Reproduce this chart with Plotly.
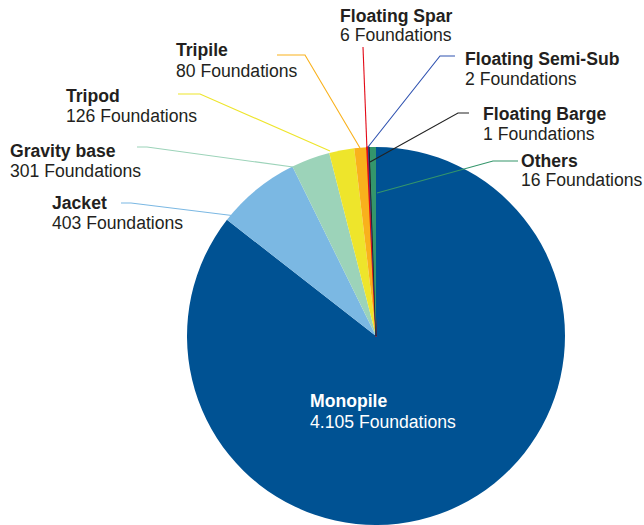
import plotly.graph_objects as go

# ---- data ----
categories = ["Monopile", "Jacket", "Gravity base", "Tripod", "Tripile",
              "Floating Spar", "Floating Semi-Sub", "Floating Barge", "Others"]
count_labels = ["4.105", "403", "301", "126", "80", "6", "2", "1", "16"]
# slice sizes as drawn in the picture (percent of the circle)
slice_share_pct = [85.56, 7.17, 3.31, 2.14, 1.08, 0.11, 0.06, 0.06, 0.53]
colors = ["#005293", "#7BB8E3", "#9CD3B9", "#EEE52B", "#F9B11C",
          "#E30A17", "#2B4DA8", "#222222", "#34966B"]

W, H = 644, 525
CX, CY, R = 376, 336, 189


def px(x):
    return x / W


def py(y):
    return 1 - y / H


fig = go.Figure(go.Pie(
    labels=categories,
    values=slice_share_pct,
    sort=False,
    direction="clockwise",
    rotation=0,
    textinfo="none",
    hoverinfo="label",
    showlegend=False,
    marker=dict(colors=colors,
                line=dict(color=colors, width=[0, 0, 0, 0, 0, 1.6, 0.8, 0.8, 0])),
    domain=dict(x=[px(CX - R), px(CX + R)], y=[max(0, py(CY + R)), py(CY - R)]),
))

# label layout: (left x, name-line centre y, count-line centre y)
label_pos = {
    "Monopile": (308, 401, 422),
    "Jacket": (50, 203, 223),
    "Gravity base": (8, 151, 171),
    "Tripod": (64, 96, 116),
    "Tripile": (174, 50, 71),
    "Floating Spar": (338, 16, 35),
    "Floating Semi-Sub": (463, 59, 79),
    "Floating Barge": (481, 114, 134),
    "Others": (519, 161, 180),
}
# leader lines (pixel points from label towards slice)
leaders = {
    "Jacket": [(121, 203), (131, 203), (236, 216)],
    "Gravity base": [(137, 147), (147, 147), (293, 167)],
    "Tripod": [(178, 94), (200, 94), (330, 151)],
    "Tripile": [(277, 55), (305, 55), (360, 148)],
    "Floating Spar": [(363, 47), (367, 150)],
    "Floating Semi-Sub": [(455, 56), (440, 56), (368, 147)],
    "Floating Barge": [(469, 113), (458, 113), (370, 162)],
    "Others": [(518, 161), (493, 161), (377, 193)],
}

font_family = "Arial, Liberation Sans, Helvetica, sans-serif"
FS = 17.6
annotations = []
for i, cat in enumerate(categories):
    x, y1, y2 = label_pos[cat]
    col = "white" if cat == "Monopile" else "#231F20"
    annotations.append(dict(x=px(x), y=py(y1), xref="paper", yref="paper",
                            text=f"<b>{cat}</b>", showarrow=False,
                            xanchor="left", yanchor="middle",
                            font=dict(family=font_family, size=FS, color=col)))
    annotations.append(dict(x=px(x), y=py(y2), xref="paper", yref="paper",
                            text=f"{count_labels[i]} Foundations", showarrow=False,
                            xanchor="left", yanchor="middle",
                            font=dict(family=font_family, size=FS, color=col)))

shapes = []
for cat, pts in leaders.items():
    idx = categories.index(cat)
    path = "M " + " L ".join(f"{px(a):.5f},{py(b):.5f}" for a, b in pts)
    shapes.append(dict(type="path", xref="paper", yref="paper", path=path,
                       line=dict(color=colors[idx] if cat != "Floating Semi-Sub" else "#2F52B0",
                                 width=1.1)))

fig.update_layout(
    width=W, height=H,
    margin=dict(l=0, r=0, t=0, b=0),
    paper_bgcolor="white",
    plot_bgcolor="white",
    annotations=annotations,
    shapes=shapes,
)

fig.write_html(
    "out.html",
    config={"displayModeBar": False},
    post_script="document.body.style.margin='0';document.body.style.overflow='hidden';",
)
